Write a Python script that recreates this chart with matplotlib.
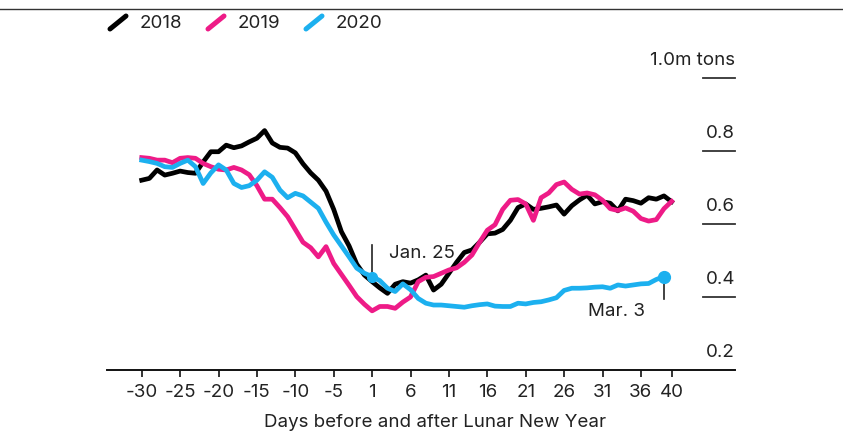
import numpy as np
import matplotlib
matplotlib.use("Agg")
import matplotlib.pyplot as plt
from matplotlib.lines import Line2D

plt.rcParams["font.family"] = ["Inter", "DejaVu Sans"]

# days around Lunar New Year (no day 0)
days = list(range(-30, 0)) + list(range(1, 41))
tick_days = [-30, -25, -20, -15, -10, -5, 1, 6, 11, 16, 21, 26, 31, 36, 40]

v2018 = [0.720, 0.725, 0.748, 0.734, 0.739, 0.745, 0.741, 0.739, 0.770, 0.798,
         0.798, 0.816, 0.809, 0.814, 0.825, 0.835, 0.856, 0.822, 0.810, 0.808,
         0.795, 0.765, 0.740, 0.720, 0.690, 0.640, 0.579, 0.540, 0.490, 0.460,
         0.442, 0.425, 0.410, 0.435, 0.442, 0.438, 0.447, 0.460, 0.419, 0.435,
         0.465, 0.495, 0.522, 0.529, 0.550, 0.573, 0.575, 0.585, 0.610, 0.645,
         0.655, 0.640, 0.643, 0.647, 0.652, 0.627, 0.650, 0.666, 0.679, 0.655,
         0.661, 0.657, 0.636, 0.668, 0.664, 0.657, 0.672, 0.668, 0.677, 0.661]

v2019 = [0.782, 0.780, 0.775, 0.775, 0.768, 0.780, 0.782, 0.780, 0.766, 0.757,
         0.750, 0.748, 0.755, 0.748, 0.735, 0.705, 0.668, 0.668, 0.645, 0.620,
         0.585, 0.550, 0.535, 0.510, 0.538, 0.492, 0.462, 0.432, 0.401, 0.380,
         0.362, 0.374, 0.374, 0.369, 0.386, 0.400, 0.442, 0.454, 0.456, 0.465,
         0.474, 0.480, 0.495, 0.515, 0.550, 0.583, 0.598, 0.640, 0.665, 0.667,
         0.655, 0.610, 0.672, 0.685, 0.708, 0.715, 0.695, 0.682, 0.685, 0.680,
         0.665, 0.642, 0.637, 0.644, 0.635, 0.615, 0.608, 0.612, 0.642, 0.662]

v2020 = [0.775, 0.771, 0.766, 0.757, 0.755, 0.766, 0.775, 0.757, 0.711, 0.740,
         0.762, 0.748, 0.711, 0.700, 0.705, 0.720, 0.743, 0.728, 0.693, 0.672,
         0.684, 0.677, 0.660, 0.643, 0.605, 0.570, 0.540, 0.510, 0.479, 0.465,
         0.456, 0.445, 0.424, 0.415, 0.436, 0.420, 0.396, 0.383, 0.378, 0.378,
         0.376, 0.374, 0.372, 0.376, 0.379, 0.381, 0.375, 0.374, 0.374, 0.383,
         0.381, 0.385, 0.387, 0.392, 0.398, 0.418, 0.424, 0.424, 0.425, 0.427,
         0.428, 0.424, 0.433, 0.430, 0.433, 0.436, 0.437, 0.448, 0.456]

y_ticks = [0.2, 0.4, 0.6, 0.8, 1.0]
y_labels = ["0.2", "0.4", "0.6", "0.8", "1.0m tons"]

C2018 = "#000000"
C2019 = "#ee1b87"
C2020 = "#1cb0ef"
TEXT = "#222222"
FS = 13.5
LW = 3.4

W, H = 843, 440
fig = plt.figure(figsize=(W / 100, H / 100), dpi=100)
ax = fig.add_axes([107 / W, (H - 370) / H, 628 / W, 292 / H])

x = np.arange(len(days))
ax.plot(x[:len(v2018)], v2018, color=C2018, lw=LW, zorder=3)
ax.plot(x[:len(v2019)], v2019, color=C2019, lw=LW, zorder=4)
ax.plot(x[:len(v2020)], v2020, color=C2020, lw=LW, zorder=5)

ax.set_xlim(-4.52, 77.25)
ax.set_ylim(0.2, 1.0)

for s in ["top", "right", "left"]:
    ax.spines[s].set_visible(False)
ax.spines["bottom"].set_linewidth(1.4)
ax.spines["bottom"].set_color("#111111")

ax.set_xticks([days.index(d) for d in tick_days])
ax.set_xticklabels([str(d) for d in tick_days], fontsize=FS, color=TEXT)
ax.tick_params(axis="x", length=5, width=1.2, color="#111111", pad=5)
ax.set_yticks([])

# right-side value labels with short rules
for v, lab in zip(y_ticks, y_labels):
    if v > 0.2:
        ax.axhline(v, xmin=0.949, xmax=1.0, color="#333333", lw=1.3, clip_on=False)
    ax.annotate(lab, xy=(1.0, v), xycoords=("axes fraction", "data"),
                xytext=(0, 9.5), textcoords="offset points",
                ha="right", va="baseline", fontsize=FS, color=TEXT,
                annotation_clip=False)

# Jan. 25 marker
i_jan = days.index(1)
ax.plot([i_jan, i_jan], [v2020[i_jan], 0.542], color="#222222", lw=1.2, zorder=6)
ax.plot(i_jan, v2020[i_jan], "o", color=C2020, ms=7, zorder=7)
ax.text(i_jan + 2.2, 0.518, "Jan. 25", fontsize=FS, color=TEXT, va="center", ha="left")

# Mar. 3 marker (last 2020 point)
i_mar = len(v2020) - 1
ax.plot([i_mar, i_mar], [v2020[i_mar], 0.395], color="#222222", lw=1.2, zorder=6)
ax.plot(i_mar, v2020[i_mar], "o", color=C2020, ms=8.5, zorder=7)
ax.text(i_mar - 2.5, 0.359, "Mar. 3", fontsize=FS, color=TEXT, va="center", ha="right")

fig.text(435 / W, 1 - 422 / H, "Days before and after Lunar New Year",
         fontsize=FS, color=TEXT, ha="center", va="center")

# top rule and legend
fig.add_artist(Line2D([0, 1], [1 - 9 / H, 1 - 9 / H], color="#333333", lw=1.0))
legend = [("2018", C2018, 110), ("2019", C2019, 208), ("2020", C2020, 306)]
for lab, col, x0 in legend:
    fig.add_artist(Line2D([x0 / W, (x0 + 16) / W], [1 - 29 / H, 1 - 16 / H],
                          color=col, lw=3.6, solid_capstyle="round"))
    fig.text((x0 + 30) / W, 1 - 23 / H, lab, fontsize=FS, color=TEXT,
             ha="left", va="center")

fig.savefig("out.png", dpi=100, facecolor="white")
